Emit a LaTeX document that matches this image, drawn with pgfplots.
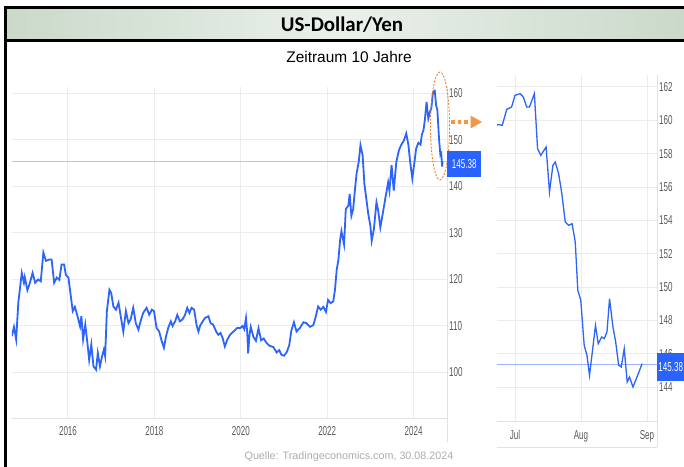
\documentclass[border=0pt]{standalone}
\usepackage{fontspec}
\setmainfont{Liberation Sans}
\newfontfamily\titlefont{Carlito}
\usepackage{pgfplots}
\usepackage{pgfplotstable}
\pgfplotsset{compat=1.18}
\usetikzlibrary{arrows.meta}

\definecolor{lineblue}{RGB}{45,100,250}
\definecolor{curlineA}{RGB}{175,198,255}
\definecolor{curlineB}{RGB}{150,180,255}
\definecolor{boxblue}{RGB}{41,98,255}
\definecolor{gridc}{RGB}{236,236,236}
\definecolor{axc}{RGB}{225,225,225}
\definecolor{tickc}{RGB}{90,90,90}
\definecolor{orangec}{RGB}{240,130,40}
\definecolor{arrowc}{RGB}{245,150,70}
\definecolor{barL}{RGB}{202,217,202}
\definecolor{barM}{RGB}{234,240,234}
\definecolor{footc}{RGB}{173,173,173}

\pgfplotstableread{
x y
2014.704 145.38
2019.700 145.38
2024.773 145.38
}\curdata

\pgfplotstableread{
x y
2014.70 107.8
2014.75 109.8
2014.80 107.1
2014.85 115.0
2014.93 121.4
2014.98 119.3
2015.00 120.5
2015.06 117.7
2015.12 119.3
2015.18 121.4
2015.24 119.3
2015.31 120.0
2015.37 119.6
2015.43 125.8
2015.49 124.0
2015.57 124.3
2015.62 124.3
2015.68 119.3
2015.74 120.4
2015.80 119.9
2015.85 123.2
2015.91 123.2
2015.95 121.0
2016.01 120.4
2016.05 117.5
2016.11 113.2
2016.16 114.1
2016.22 112.1
2016.28 109.9
2016.31 112.1
2016.35 107.1
2016.40 110.3
2016.45 106.3
2016.49 102.7
2016.54 106.0
2016.59 101.3
2016.65 100.6
2016.69 104.2
2016.74 101.3
2016.79 103.5
2016.83 104.9
2016.86 103.5
2016.90 113.2
2016.96 117.8
2017.00 117.1
2017.05 114.2
2017.11 113.5
2017.17 115.0
2017.22 112.1
2017.28 108.8
2017.34 113.2
2017.40 110.6
2017.45 111.4
2017.51 113.9
2017.57 110.6
2017.63 109.2
2017.68 111.0
2017.74 112.8
2017.82 113.9
2017.88 112.4
2017.94 113.5
2017.99 113.2
2018.05 109.6
2018.11 108.8
2018.17 106.7
2018.22 105.3
2018.27 107.8
2018.32 109.6
2018.38 111.0
2018.42 110.0
2018.48 111.0
2018.53 112.4
2018.59 111.0
2018.65 111.4
2018.71 112.4
2018.76 113.9
2018.81 112.8
2018.86 113.9
2018.92 113.5
2018.98 110.0
2019.02 108.8
2019.06 110.1
2019.12 111.0
2019.17 111.7
2019.25 112.1
2019.30 110.6
2019.36 110.3
2019.43 108.8
2019.48 108.1
2019.53 108.5
2019.58 107.4
2019.63 105.6
2019.69 107.1
2019.75 108.1
2019.83 108.8
2019.92 109.6
2019.98 109.5
2020.04 110.0
2020.08 109.3
2020.12 111.7
2020.15 108.4
2020.17 104.1
2020.20 108.0
2020.23 109.8
2020.29 107.7
2020.35 106.8
2020.41 109.5
2020.47 106.9
2020.53 107.3
2020.60 106.3
2020.67 105.7
2020.75 105.5
2020.83 104.3
2020.89 104.8
2020.94 103.8
2021.00 103.6
2021.06 104.3
2021.12 105.8
2021.17 109.0
2021.23 110.8
2021.29 108.8
2021.37 109.6
2021.45 110.8
2021.52 110.6
2021.60 109.8
2021.68 110.2
2021.74 112.2
2021.79 114.2
2021.85 113.5
2021.91 114.1
2021.97 113.0
2022.02 115.6
2022.08 114.9
2022.14 115.3
2022.18 117.8
2022.22 122.1
2022.26 124.3
2022.30 128.6
2022.33 130.4
2022.39 127.5
2022.43 135.1
2022.49 135.9
2022.52 138.4
2022.56 133.7
2022.60 135.1
2022.64 139.1
2022.68 142.8
2022.73 145.3
2022.77 148.9
2022.82 146.7
2022.86 140.6
2022.91 137.0
2022.95 134.1
2023.00 131.5
2023.03 128.3
2023.08 130.8
2023.14 136.6
2023.18 134.8
2023.23 131.2
2023.29 134.4
2023.35 137.7
2023.41 140.9
2023.44 139.1
2023.49 144.6
2023.54 139.1
2023.60 145.3
2023.66 147.8
2023.71 148.9
2023.77 149.8
2023.83 151.4
2023.88 148.9
2023.92 145.3
2023.97 141.7
2024.02 145.3
2024.06 148.2
2024.11 149.4
2024.16 149.0
2024.19 151.1
2024.23 152.2
2024.26 154.3
2024.30 158.2
2024.34 154.6
2024.38 156.1
2024.41 156.8
2024.45 160.4
2024.49 160.6
2024.52 157.5
2024.55 156.4
2024.59 150.0
2024.62 146.8
2024.64 147.1
2024.66 144.3
2024.67 145.4
}\longdata

\pgfplotstableread{
x y
-8.7 159.7
-7.9 159.75
-6.0 159.7
-3.9 160.65
-1.6 160.8
0.0 161.5
2.4 161.6
3.9 161.4
5.5 160.8
6.8 160.8
9.1 161.6
10.6 158.3
12.1 157.9
14.6 158.4
16.2 155.7
17.8 157.3
18.9 157.5
20.5 156.8
22.0 155.6
23.6 153.9
25.2 153.7
26.8 153.8
28.3 152.7
29.5 149.8
30.9 149.2
32.5 146.5
33.8 145.9
35.0 144.7
36.6 146.4
37.8 147.7
39.1 146.6
40.7 147.0
41.9 146.9
43.2 147.3
44.4 149.3
46.0 147.6
47.3 146.7
48.7 145.3
49.9 145.2
51.3 146.3
52.7 144.3
53.8 144.6
55.4 144.0
57.6 144.7
59.7 145.4
}\shortdata

\begin{document}
\begin{tikzpicture}[x=1bp,y=1bp]
\path[use as bounding box] (0,0) rectangle (684,-467);
\fill[white] (0,0) rectangle (684,-467);

% left chart
\begin{axis}[
  at={(12bp,-418bp)}, anchor=south west,
  scale only axis, width=435bp, height=331bp,
  xmin=2014.704, xmax=2024.773, ymin=90.2, ymax=161.4,
  axis x line*=bottom, axis y line*=right,
  axis line style={axc, line width=1bp},
  xtick={2016,2018,2020,2022,2024}, ytick={100,110,...,160},
  grid=major, grid style={gridc, line width=1bp},
  major tick length=0pt,
  /pgf/number format/assume math mode=true,
  tick label style={font=\fontsize{13}{13}\selectfont, text=tickc, xscale=0.62},
  xticklabel style={/pgf/number format/1000 sep={}, yshift=-5bp},
]
\addplot[color=curlineA, line width=1.5bp] table[x=x,y=y] {\curdata};
\addplot[draw=lineblue, line width=1.8bp] table[x=x,y=y] {\longdata};
\end{axis}
\draw[axc, line width=1bp] (447,-418) -- (447,-442);

% orange highlight
\draw[orangec, line width=0.9bp, dash pattern=on 2bp off 1.5bp] (440,-126) ellipse [x radius=9.5, y radius=54];
\draw[arrowc, line width=4bp, dash pattern=on 3.5bp off 3bp] (451,-122) -- (470,-122);
\fill[arrowc] (470.5,-115.5) -- (482,-122) -- (470.5,-128.5) -- cycle;

% left price box
\node[fill=boxblue, text=white, minimum width=34bp, minimum height=26bp, inner sep=0pt, anchor=west,
      font=\fontsize{13}{13}\selectfont] at (447,-163.7) {\scalebox{0.62}[1]{145.38}};

% right chart
\begin{axis}[
  at={(497bp,-421bp)}, anchor=south west,
  scale only axis, width=160bp, height=346bp,
  xmin=-8.45, xmax=66.7, ymin=141.96, ymax=162.72,
  axis x line*=bottom, axis y line*=right,
  axis line style={axc, line width=1bp},
  xtick={0,31,62}, xticklabels={Jul,Aug,Sep},
  ytick={144,146,...,162},
  grid=major, grid style={gridc, line width=1bp},
  major tick length=0pt,
  /pgf/number format/assume math mode=true,
  tick label style={font=\fontsize{13}{13}\selectfont, text=tickc, xscale=0.62},
  xticklabel style={yshift=-6bp},
]
\addplot[draw=curlineB, line width=1bp] coordinates {(-8.45,145.38) (66.7,145.38)};
\addplot[draw=lineblue, line width=1.3bp] table[x=x,y=y] {\shortdata};
\end{axis}
\draw[axc, line width=1bp] (657,-421) -- (657,-447);
\draw[axc, line width=1bp] (497,-447) -- (657,-447);

\node[fill=boxblue, text=white, minimum width=30bp, minimum height=28bp, inner sep=0pt, anchor=west,
      font=\fontsize{13}{13}\selectfont] at (657,-367) {\hspace*{1bp}\scalebox{0.62}[1]{145.38}\hspace*{4bp}};

% title bar and texts
\shade[left color=barL, right color=barL, middle color=barM] (5,-8) rectangle (684,-40.5);
\draw[line width=3bp] (684,-8) -- (5.3,-8) -- (5.3,-467);
\draw[line width=3bp] (5.3,-40.5) -- (684,-40.5);
\node[font=\titlefont\bfseries\fontsize{21}{21}\selectfont] at (342,-24.5) {US-Dollar/Yen};
\node[font=\fontsize{15.5}{15.5}\selectfont] at (349,-57) {Zeitraum 10 Jahre};
\node[font=\fontsize{10.8}{10.8}\selectfont, text=footc] at (349,-457) {Quelle: Tradingeconomics.com, 30.08.2024};
\end{tikzpicture}
\end{document}
